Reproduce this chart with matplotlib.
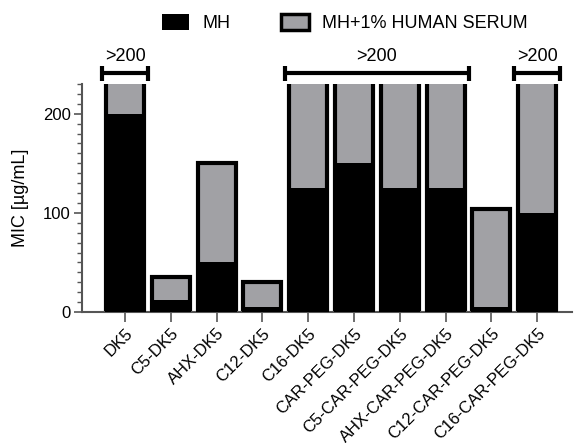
import matplotlib
matplotlib.use("Agg")
import matplotlib.pyplot as plt
from matplotlib.patches import Patch
from matplotlib.ticker import MultipleLocator

plt.rcParams['font.family'] = ['Liberation Sans', 'DejaVu Sans']

categories = ["DK5", "C5-DK5", "AHX-DK5", "C12-DK5", "C16-DK5", "CAR-PEG-DK5",
              "C5-CAR-PEG-DK5", "AHX-CAR-PEG-DK5", "C12-CAR-PEG-DK5", "C16-CAR-PEG-DK5"]
mh = [200, 12.5, 50, 5, 125, 150, 125, 125, 5, 100]
# values > 200 are shown as bars running off the top of the axis
serum = [240, 35, 150, 30, 240, 240, 240, 240, 104, 240]
brackets = [(0, 0, ">200"), (4, 7, ">200"), (9, 9, ">200")]
legend_labels = ["MH", "MH+1% HUMAN SERUM"]

GRAY = '#A1A1A5'
SPINE = '#555555'
FS = 13

fig = plt.figure(figsize=(5.74, 4.43), dpi=100)
ax = fig.add_axes([0.1429, 0.2957, 0.8536, 0.5147])

x = list(range(len(categories)))
ax.bar(x, serum, width=0.83, color=GRAY, edgecolor='black', linewidth=3, zorder=2)
ax.bar(x, mh, width=0.895, color='black', edgecolor='none', linewidth=0, zorder=3)

ax.set_ylim(0, 230)
ax.set_xlim(-0.94, 9.76)
ax.yaxis.set_major_locator(MultipleLocator(100))
ax.yaxis.set_minor_locator(MultipleLocator(10))

for s in ['top', 'right']:
    ax.spines[s].set_visible(False)
for s in ['left', 'bottom']:
    ax.spines[s].set_color(SPINE)
    ax.spines[s].set_linewidth(1.5)

ax.tick_params(axis='y', which='major', length=6, width=1.2, color=SPINE, labelsize=12, pad=2)
ax.tick_params(axis='y', which='minor', length=3.5, width=1.0, color=SPINE)
ax.tick_params(axis='x', which='major', length=7, width=1.2, color=SPINE, labelsize=12, pad=3)

ax.set_xticks(x)
ax.set_xticklabels(categories, rotation=45, ha='right', va='top', rotation_mode='anchor')
ax.set_ylabel("MIC [µg/mL]", fontsize=FS, labelpad=10)

for i, j, lab in brackets:
    x0, x1 = i - 0.5, j + 0.5
    y = 241
    ax.plot([x0, x1], [y, y], color='black', lw=3, clip_on=False, solid_capstyle='butt', zorder=5)
    for xx in (x0, x1):
        ax.plot([xx, xx], [233, 248], color='black', lw=3, clip_on=False, solid_capstyle='butt', zorder=5)
    ax.text((x0 + x1) / 2, 249, lab, ha='center', va='bottom', fontsize=FS, clip_on=False)

handles = [Patch(facecolor='black', edgecolor='black', linewidth=0),
           Patch(facecolor=GRAY, edgecolor='black', linewidth=2.5)]
leg = fig.legend(handles, legend_labels, loc='center', ncol=2,
                 frameon=False, fontsize=FS, handlelength=1.5, handleheight=0.95,
                 handletextpad=0.75, columnspacing=2.8, borderaxespad=0)
leg.set_bbox_to_anchor((0.601, 0.948), transform=fig.transFigure)

fig.savefig("out.png", dpi=100)
